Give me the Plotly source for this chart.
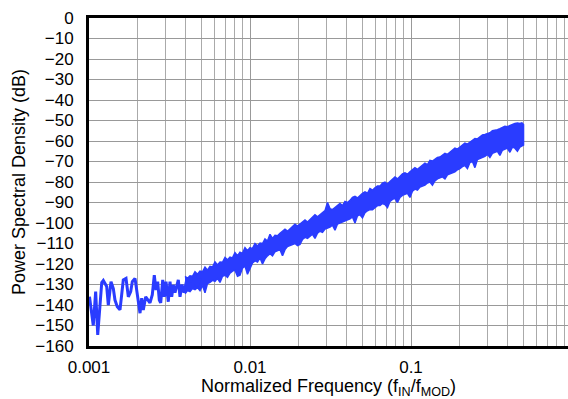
import plotly.graph_objects as go

# ---------------- data ----------------
# low-frequency part: individual noisy trace
low_freq = [0.001007, 0.001014, 0.001063, 0.0011, 0.001133, 0.0012, 0.001227, 0.001288,
            0.001318, 0.00137, 0.001416, 0.00145, 0.001499, 0.001558, 0.001633, 0.001698,
            0.001755, 0.001816, 0.001858, 0.001931, 0.001995, 0.002074, 0.002125, 0.002174,
            0.00225, 0.002315, 0.002392, 0.002473, 0.002544, 0.002607, 0.002671, 0.002733,
            0.002788, 0.00287, 0.002936, 0.003008, 0.003108, 0.003185, 0.003264, 0.003339,
            0.003421, 0.003587, 0.003675, 0.003781, 0.003892, 0.004045, 0.00415, 0.00424,
            0.004364, 0.004554, 0.004687, 0.004891]
low_psd = [-136, -137.6, -150, -133.5, -154.6, -129, -128, -131,
           -140, -128.6, -132, -137.6, -140.8, -142.4, -127.8, -127,
           -136, -133.5, -128.6, -127, -136, -144, -136.7, -142.4,
           -136, -137.6, -139, -135, -125.4, -132.7, -128.6, -137.6,
           -139, -127.8, -136, -128.6, -138.4, -128.6, -136, -130.2,
           -134, -127.8, -136, -130, -134, -127.8, -133, -129,
           -132, -125.4, -131, -127]

# dense part: upper and lower envelope of the noise band
band_freq = [0.003948, 0.004092, 0.004239, 0.004393, 0.004553, 0.004719, 0.004891, 0.005069,
             0.005253, 0.005444, 0.005643, 0.005848, 0.006061, 0.006282, 0.00651, 0.006747,
             0.006992, 0.007247, 0.00751, 0.007783, 0.008067, 0.008361, 0.008665, 0.00898,
             0.009307, 0.009646, 0.01, 0.010364, 0.01074, 0.011131, 0.01154, 0.01196,
             0.01239, 0.012841, 0.01331, 0.013794, 0.0143, 0.01482, 0.01536, 0.01592,
             0.01649, 0.01709, 0.01772, 0.018365, 0.01903, 0.019723, 0.02044, 0.021184,
             0.02196, 0.022759, 0.02358, 0.024438, 0.02533, 0.026252, 0.02721, 0.0282,
             0.02923, 0.030294, 0.03139, 0.032533, 0.03372, 0.034947, 0.03622, 0.037538,
             0.0389, 0.040316, 0.04178, 0.043301, 0.04488, 0.046514, 0.0482, 0.049954,
             0.05178, 0.053665, 0.05561, 0.057634, 0.05973, 0.061904, 0.06416, 0.066495,
             0.06892, 0.071429, 0.07402, 0.076714, 0.0795, 0.082394, 0.0854, 0.088509,
             0.0917, 0.095038, 0.0985, 0.102085, 0.1058, 0.109651, 0.1137, 0.117839,
             0.1221, 0.126544, 0.1311, 0.135872, 0.1408, 0.145925, 0.1513, 0.156807,
             0.1625, 0.168415, 0.1745, 0.180852, 0.1874, 0.194221, 0.2013, 0.208627,
             0.2162, 0.22407, 0.2323, 0.240756, 0.2495, 0.258582, 0.268, 0.277755,
             0.2878, 0.298276, 0.3091, 0.320351, 0.332, 0.344085, 0.3566, 0.36958,
             0.3831, 0.397045, 0.4114, 0.426375, 0.4419, 0.457985, 0.4747, 0.4885,
             0.5]
band_top = [-126.0, -127.0, -125.8, -126.0, -123.8, -125.0, -123.5, -123.8,
            -121.5, -123.0, -121.2, -121.5, -119.0, -120.5, -119.0, -119.2,
            -116.8, -118.0, -116.6, -117.0, -114.5, -116.0, -114.2, -114.8,
            -112.0, -113.5, -112.0, -112.5, -110.0, -111.2, -109.8, -110.0,
            -107.8, -108.8, -105.5, -107.5, -106.0, -106.2, -105.0, -104.0,
            -103.0, -104.0, -102.8, -101.5, -100.6, -101.5, -100.5, -99.5,
            -98.5, -99.5, -98.2, -97.0, -96.0, -97.0, -96.0, -95.0,
            -94.0, -90.0, -93.0, -93.5, -92.5, -91.5, -90.5, -91.5,
            -89.5, -90.0, -89.0, -87.5, -87.0, -87.8, -86.5, -85.5,
            -84.8, -85.5, -83.2, -84.0, -82.8, -82.0, -82.0, -80.5,
            -80.0, -81.0, -79.8, -78.5, -77.5, -78.5, -77.2, -76.0,
            -75.5, -76.2, -75.0, -74.0, -73.0, -73.8, -72.8, -71.5,
            -70.8, -71.5, -69.5, -69.8, -68.8, -68.0, -67.8, -67.0,
            -66.0, -66.5, -65.5, -64.5, -63.5, -64.0, -63.0, -61.8,
            -61.0, -61.5, -60.5, -59.5, -58.8, -59.0, -58.0, -57.0,
            -56.8, -56.5, -56.0, -55.0, -54.8, -54.5, -54.0, -53.2,
            -52.8, -53.0, -52.5, -51.8, -51.5, -51.2, -51.5, -51.2,
            -52.0]
band_bot = [-134.5, -133.0, -133.5, -132.0, -132.5, -131.5, -133.0, -130.5,
            -134.0, -129.5, -129.0, -128.0, -128.5, -127.0, -129.0, -126.0,
            -125.5, -126.5, -124.5, -123.5, -123.0, -126.0, -125.5, -122.0,
            -121.0, -125.0, -122.0, -119.5, -118.5, -119.0, -117.0, -120.0,
            -117.5, -116.0, -115.0, -116.0, -114.0, -113.5, -113.0, -116.0,
            -113.0, -111.5, -111.0, -110.5, -110.0, -111.0, -110.5, -108.0,
            -107.0, -107.5, -106.5, -105.5, -107.5, -105.0, -104.0, -104.5,
            -103.0, -102.5, -102.0, -101.0, -103.5, -100.5, -100.0, -99.5,
            -99.0, -98.5, -98.0, -97.0, -100.0, -96.5, -96.0, -97.5,
            -95.0, -94.0, -93.5, -93.5, -92.5, -91.5, -91.5, -90.5,
            -91.0, -92.5, -89.5, -88.5, -88.0, -90.0, -87.5, -86.5,
            -86.0, -85.5, -87.5, -84.5, -83.5, -84.0, -82.5, -82.0,
            -81.5, -80.5, -80.0, -81.5, -79.5, -78.5, -78.0, -77.5,
            -78.5, -76.5, -76.0, -75.5, -75.0, -74.0, -73.5, -72.5,
            -72.0, -73.5, -70.5, -70.0, -73.0, -69.0, -68.5, -68.0,
            -67.5, -66.5, -68.0, -66.0, -65.5, -65.0, -67.0, -64.5,
            -64.0, -63.5, -65.5, -63.0, -63.5, -65.0, -63.0, -62.5,
            -62.0]

y_ticks = list(range(-160, 1, 10))
x_major = [0.001, 0.01, 0.1]
x_major_text = ["0.001", "0.01", "0.1"]
x_minor = [m * d for d in (0.001, 0.01, 0.1) for m in range(2, 10)]

BLUE = "#2a3cff"
FONT = "Liberation Sans, Arial, Helvetica, sans-serif"

fig = go.Figure()
fig.add_trace(go.Scatter(
    x=band_freq + band_freq[::-1], y=band_top + band_bot[::-1],
    mode="lines", fill="toself", fillcolor=BLUE,
    line=dict(color=BLUE, width=1.5), hoverinfo="skip", showlegend=False))
fig.add_trace(go.Scatter(
    x=low_freq, y=low_psd, mode="lines",
    line=dict(color=BLUE, width=3), showlegend=False))

fig.update_layout(
    width=568, height=399,
    margin=dict(l=89, r=0, t=18, b=53),
    paper_bgcolor="white", plot_bgcolor="white",
    font=dict(family=FONT, size=17, color="black"),
    showlegend=False,
)
fig.update_xaxes(
    type="log", range=[-3, -3 + 479 / 161],
    tickmode="array", tickvals=x_major, ticktext=x_major_text,
    showgrid=True, gridcolor="#999999", gridwidth=1,
    minor=dict(tickmode="array", tickvals=x_minor, showgrid=True,
               gridcolor="#aaaaaa", gridwidth=1, ticks=""),
    showline=True, linecolor="black", linewidth=3, mirror=True,
    ticks="", ticklabelstandoff=4, zeroline=False,
)
fig.update_yaxes(
    range=[-160, 0], tickmode="array", tickvals=y_ticks,
    showgrid=True, gridcolor="#999999", gridwidth=1,
    showline=True, linecolor="black", linewidth=3, mirror=False,
    ticks="", ticklabelstandoff=9, zeroline=False,
)
fig.add_annotation(
    text="Normalized Frequency (f<sub>IN</sub>/f<sub>MOD</sub>)",
    xref="paper", yref="paper", x=(328 - 89) / 479, y=-41 / 328,
    xanchor="center", yanchor="middle", showarrow=False,
    font=dict(family=FONT, size=18, color="black"))
fig.add_annotation(
    text="Power Spectral Density (dB)",
    xref="paper", yref="paper", x=-70 / 479, y=(346 - 182) / 328,
    xanchor="center", yanchor="middle", textangle=-90, showarrow=False,
    font=dict(family=FONT, size=18, color="black"))

fig.write_html("out.html")
